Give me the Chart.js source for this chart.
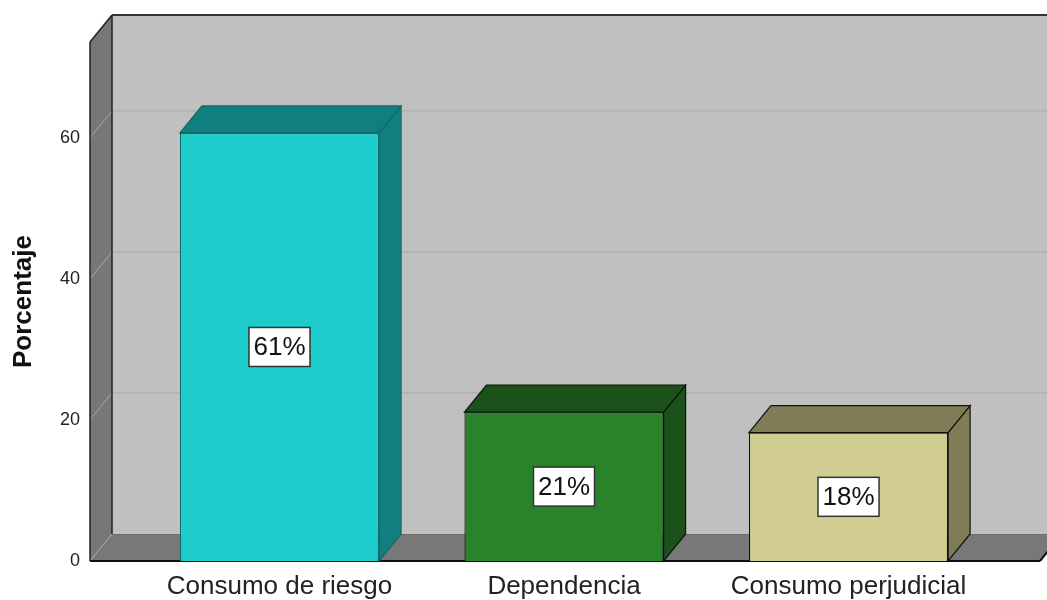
<!DOCTYPE html>
<html>
<head>
<meta charset="utf-8">
<script src="https://cdn.jsdelivr.net/npm/chart.js@4/dist/chart.umd.min.js"></script>
<style>
  html, body { margin: 0; padding: 0; background: #ffffff; }
  #wrap { width: 1047px; height: 600px; }
</style>
</head>
<body>
<div id="wrap"><canvas id="grafico" width="1047" height="600"></canvas></div>
<script>
// datos
var categorias = ["Consumo de riesgo", "Dependencia", "Consumo perjudicial"];
var porcentajes = [60.7, 21.1, 18.2];
var ticksY = [0, 20, 40, 60];
var yMax = 73.6;

// colores: cara frontal / caras laterales / borde
var colorFrente = ["#1ccdcc", "#28832a", "#d1cc90"];
var colorLado = ["#117f7e", "#1b521a", "#807c55"];
var colorBorde = ["#0f6b69", "#111111", "#111111"];

// profundidad del efecto 3D
var DX = 22;
var DY = -27;

var fuente = "'Liberation Sans', Arial, sans-serif";

var puntos = [];
for (var i = 0; i < categorias.length; i++) {
    puntos.push({ x: i, y: porcentajes[i] });
}

function poly(ctx, pts, fill, stroke, lw) {
    ctx.beginPath();
    ctx.moveTo(pts[0][0], pts[0][1]);
    for (var k = 1; k < pts.length; k++) ctx.lineTo(pts[k][0], pts[k][1]);
    ctx.closePath();
    if (fill) { ctx.fillStyle = fill; ctx.fill(); }
    if (stroke) { ctx.strokeStyle = stroke; ctx.lineWidth = lw || 1; ctx.stroke(); }
}

function linea(ctx, x1, y1, x2, y2, color, lw) {
    ctx.beginPath();
    ctx.moveTo(x1, y1);
    ctx.lineTo(x2, y2);
    ctx.strokeStyle = color;
    ctx.lineWidth = lw;
    ctx.stroke();
}

// paredes, piso, cuadricula y caras 3D de las barras
var caja3d = {
    id: "caja3d",
    beforeDatasetsDraw: function (chart) {
        var ctx = chart.ctx;
        var a = chart.chartArea;
        var L = a.left, R = a.right, T = a.top, B = a.bottom;
        var ys = chart.scales.y;
        ctx.save();
        // pared del fondo
        poly(ctx, [[L + DX, T + DY], [R + DX + 40, T + DY], [R + DX + 40, B + DY], [L + DX, B + DY]], "#c0c0c0");
        // pared izquierda
        poly(ctx, [[L, T], [L + DX, T + DY], [L + DX, B + DY], [L, B]], "#777777");
        // piso
        poly(ctx, [[L, B], [L + DX, B + DY], [R + DX, B + DY], [R, B]], "#787878");
        linea(ctx, L + DX, B + DY + 0.5, R + DX, B + DY + 0.5, "#6c6c6c", 1);

        // cuadricula
        ticksY.forEach(function (v) {
            var py = ys.getPixelForValue(v);
            linea(ctx, L, py, L + DX, py + DY, "#a8a8a8", 1);
            if (v > 0) linea(ctx, L + DX, py + DY, R + DX + 40, py + DY, "#acacac", 1.2);
        });

        // bordes de la caja
        linea(ctx, L, T, L, B, "#222222", 1.5);
        linea(ctx, L, T, L + DX, T + DY, "#222222", 1.5);
        linea(ctx, L + DX, T + DY, L + DX, B + DY, "#222222", 1.5);
        linea(ctx, L + DX, T + DY, R + DX + 40, T + DY, "#333333", 2);
        linea(ctx, L, B, R, B, "#111111", 2);
        linea(ctx, R, B, R + DX, B + DY, "#111111", 2);

        // caras superior y lateral de cada barra
        var meta = chart.getDatasetMeta(0);
        meta.data.forEach(function (bar, idx) {
            var p = bar.getProps(["x", "y", "base", "width"], true);
            var x0 = p.x - p.width / 2, x1 = p.x + p.width / 2;
            var top = p.y, bot = p.base;
            poly(ctx, [[x1, top], [x1 + DX, top + DY], [x1 + DX, bot + DY], [x1, bot]], colorLado[idx], colorBorde[idx], 1.2);
            poly(ctx, [[x0, top], [x0 + DX, top + DY], [x1 + DX, top + DY], [x1, top]], colorLado[idx], colorBorde[idx], 1.2);
        });
        ctx.restore();
    },
    afterDatasetsDraw: function (chart) {
        var ctx = chart.ctx;
        var meta = chart.getDatasetMeta(0);
        ctx.save();
        ctx.font = "26px " + fuente;
        ctx.textAlign = "center";
        ctx.textBaseline = "middle";
        meta.data.forEach(function (bar, idx) {
            var p = bar.getProps(["x", "y", "base"], true);
            var cy = (p.y + p.base) / 2;
            var txt = Math.round(porcentajes[idx]) + "%";
            var w = ctx.measureText(txt).width + 9;
            var h = 39;
            ctx.fillStyle = "#ffffff";
            ctx.fillRect(p.x - w / 2, cy - h / 2, w, h);
            ctx.strokeStyle = "#333333";
            ctx.lineWidth = 1.5;
            ctx.strokeRect(p.x - w / 2, cy - h / 2, w, h);
            ctx.fillStyle = "#111111";
            ctx.fillText(txt, p.x, cy + 1);
        });
        ctx.restore();
    }
};

var grafico = new Chart(document.getElementById("grafico"), {
    type: "bar",
    data: {
        datasets: [{
            data: puntos,
            backgroundColor: colorFrente,
            borderColor: colorBorde,
            borderWidth: 1.2,
            barPercentage: 0.7,
            categoryPercentage: 1
        }]
    },
    options: {
        responsive: false,
        animation: false,
        layout: { padding: { top: 42, right: 7, left: 0, bottom: 0 } },
        plugins: {
            legend: { display: false },
            tooltip: { enabled: false }
        },
        scales: {
            x: {
                type: "linear",
                offset: false,
                min: -0.666,
                max: 2.673,
                grid: { display: false, drawTicks: false },
                border: { display: false },
                afterFit: function (s) { s.height = 39; },
                ticks: {
                    stepSize: 1,
                    includeBounds: false,
                    autoSkip: false,
                    maxRotation: 0,
                    padding: 10,
                    color: "#222222",
                    font: { family: fuente, size: 26 },
                    callback: function (v) { return categorias[v] !== undefined ? categorias[v] : ""; }
                }
            },
            y: {
                min: 0,
                max: yMax,
                grid: { display: false, drawTicks: false },
                border: { display: false },
                afterFit: function (s) { s.width = 90; },
                afterBuildTicks: function (s) {
                    s.ticks = ticksY.map(function (v) { return { value: v }; });
                },
                ticks: {
                    padding: 10,
                    color: "#222222",
                    font: { family: fuente, size: 18 }
                },
                title: {
                    display: true,
                    text: "Porcentaje",
                    color: "#111111",
                    padding: { top: 8, bottom: 0 },
                    font: { family: fuente, size: 26, weight: "bold" }
                }
            }
        }
    },
    plugins: [caja3d]
});
</script>
</body>
</html>
